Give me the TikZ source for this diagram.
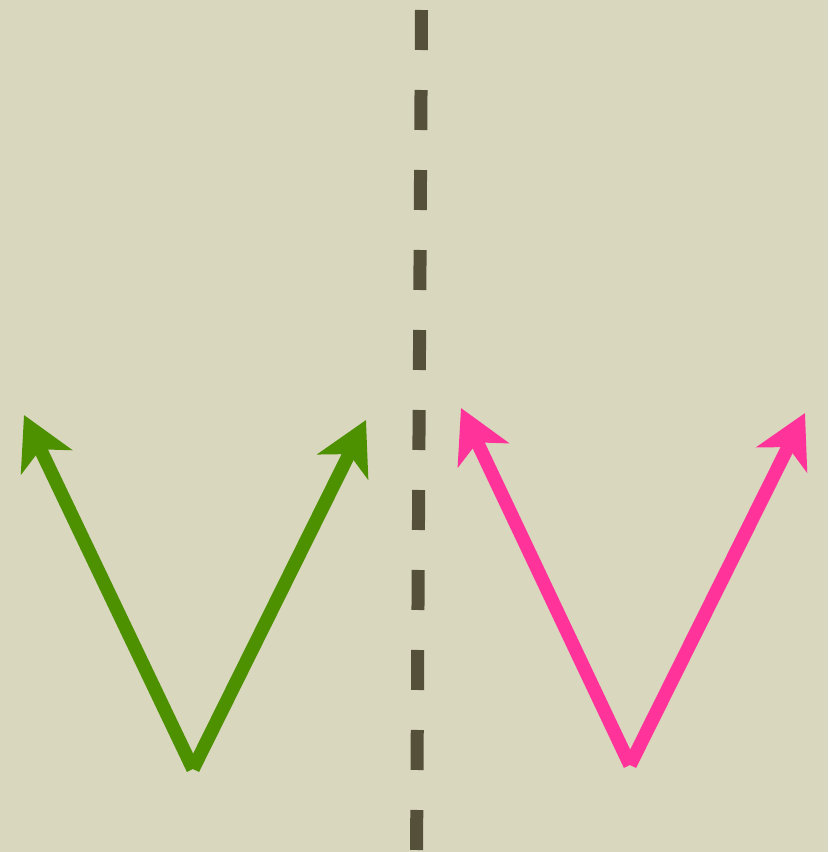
\documentclass[tikz,border=0pt]{standalone}
\usetikzlibrary{arrows.meta}
\definecolor{bgc}{HTML}{D9D7BE}
\definecolor{dashc}{HTML}{55503A}
\definecolor{vgreen}{HTML}{4E9100}
\definecolor{vpink}{HTML}{FF3399}
\tikzset{
  vec/.style={line width=13.5pt, line cap=butt, -{Stealth[length=52pt,width=56pt,inset=14pt]}},
  axisline/.style={draw=dashc, line width=13pt, dash pattern=on 40pt off 40pt}
}
\begin{document}
\begin{tikzpicture}[x=1pt,y=-1pt]
\fill[bgc] (0,0) rectangle (828,852);
\useasboundingbox (0,0) rectangle (828,852);
\coordinate (top) at (421.5,10);
\coordinate (bot) at (416.5,860);
\draw[axisline] (top) -- (bot);
% green V
\coordinate (g0) at (193,769);
\coordinate (g1) at (24,415);
\coordinate (g2) at (366,420);
\draw[vec, draw=vgreen, fill=vgreen] (g0) -- (g1);
\draw[vec, draw=vgreen, fill=vgreen] (g0) -- (g2);
% pink V
\coordinate (p0) at (630,765);
\coordinate (p1) at (461,408);
\coordinate (p2) at (805,413);
\draw[vec, draw=vpink, fill=vpink] (p0) -- (p1);
\draw[vec, draw=vpink, fill=vpink] (p0) -- (p2);
\end{tikzpicture}
\end{document}
